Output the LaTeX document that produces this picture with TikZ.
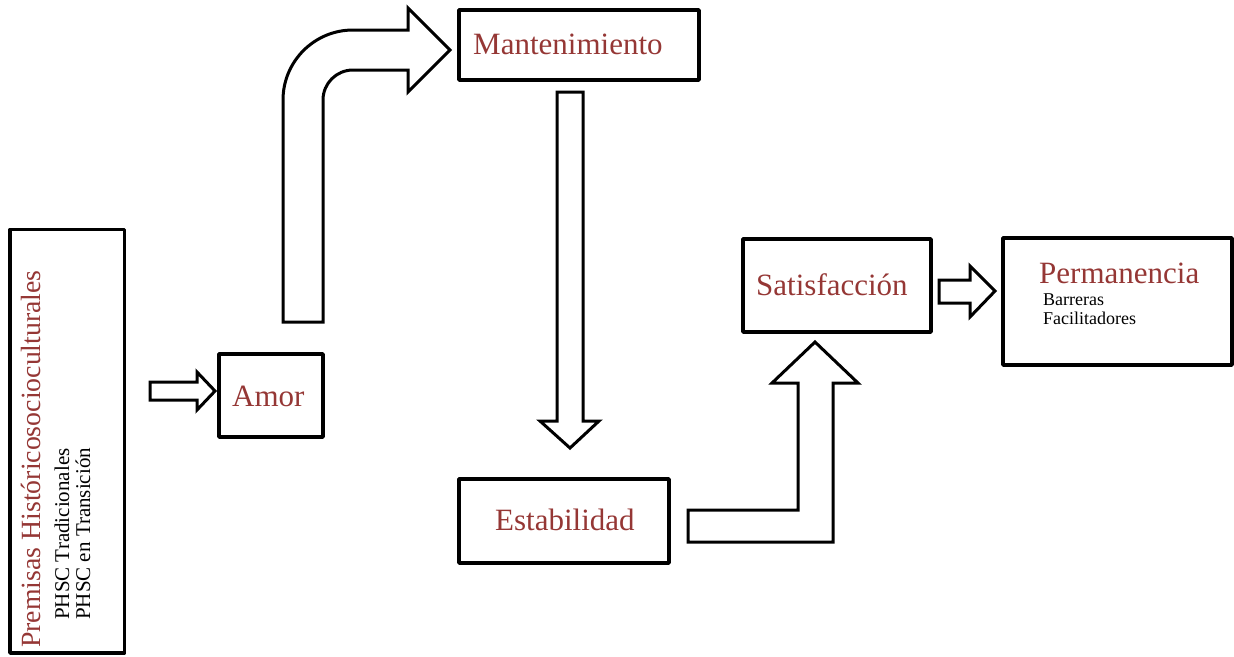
\documentclass[tikz,border=0pt]{standalone}
\usepackage{fontspec}
\setmainfont{Liberation Serif}
\usepackage{tikz}
\definecolor{premred}{RGB}{149,55,53}
\newcommand\labelsize{\fontsize{31}{37}\selectfont}
\newcommand\itemsize{\fontsize{18}{19}\selectfont}

\begin{document}
\begin{tikzpicture}[x=1pt, y=-1pt,
		box/.style={draw=black, line width=3.5pt, line join=round, inner sep=0pt},
		blockarrow/.style={draw=black, fill=white, line width=3pt, line join=miter},
		lbl/.style={text=premred, font=\labelsize, inner sep=0pt, anchor=base west},
		itm/.style={text=black, font=\itemsize, inner sep=0pt, anchor=base west}]
			%%%%% START %%%%%
			\useasboundingbox (0, 0) rectangle (1234, 656);
			
			% boxes
			\node[box, minimum width=114.5pt, minimum height=423.5pt] (premisas) at (67.25, 441.25) {};
			\node[box, minimum width=104pt, minimum height=83pt] (amor) at (271, 395.5) {};
			\node[box, minimum width=240pt, minimum height=70pt] (mant) at (579, 45) {};
			\node[box, minimum width=210pt, minimum height=84pt] (estab) at (564, 521) {};
			\node[box, minimum width=188pt, minimum height=93pt] (satis) at (837, 285.5) {};
			\node[box, minimum width=229pt, minimum height=127pt] (perm) at (1117.5, 301.5) {};
			
			% texts
			\node[lbl, font=\fontsize{27.8}{33}\selectfont, rotate=90] (premtit) at (40, 648) {Premisas Históricosocioculturales};
			\node[itm, font=\fontsize{21}{22}\selectfont, rotate=90] (phsctrad) at (69, 620) {PHSC Tradicionales};
			\node[itm, font=\fontsize{21}{22}\selectfont, rotate=90] (phsctran) at (90, 620) {PHSC en Transición};
			\node[lbl] (amortxt) at (232, 406) {Amor};
			\node[lbl] (manttxt) at (473, 54) {Mantenimiento};
			\node[lbl] (estabtxt) at (495, 530) {Estabilidad};
			\node[lbl] (satistxt) at (756, 295) {Satisfacción};
			\node[lbl] (permtxt) at (1039, 283) {Permanencia};
			\node[itm] (barr) at (1043, 305) {Barreras};
			\node[itm] (facil) at (1043, 324) {Facilitadores};
			
			% premisas -> amor
			\draw[blockarrow] (150, 382) -- (197, 382) -- (197, 372) -- (215, 391) -- (197, 410) -- (197, 400) -- (150, 400) -- cycle;
			
			% amor -> mantenimiento
			\draw[blockarrow] (283, 322) -- (283, 100) arc (180:270:70) -- (408, 30) -- (408, 8) -- (450, 50) -- (408, 92) -- (408, 70) -- (353, 70) arc (270:180:30) -- (323, 322) -- cycle;
			
			% mantenimiento -> estabilidad
			\draw[blockarrow] (557, 92) -- (583, 92) -- (583, 421) -- (599, 421) -- (570, 448) -- (540, 421) -- (557, 421) -- cycle;
			
			% estabilidad -> satisfaccion
			\draw[blockarrow] (688, 510) -- (798, 510) -- (798, 383) -- (772, 383) -- (815, 342) -- (858, 383) -- (833, 383) -- (833, 542) -- (688, 542) -- cycle;
			
			% satisfaccion -> permanencia
			\draw[blockarrow] (939, 280) -- (970, 280) -- (970, 266) -- (995, 291) -- (970, 317) -- (970, 303) -- (939, 303) -- cycle;
			
			%%%%% END %%%%%
\end{tikzpicture}
\end{document}
